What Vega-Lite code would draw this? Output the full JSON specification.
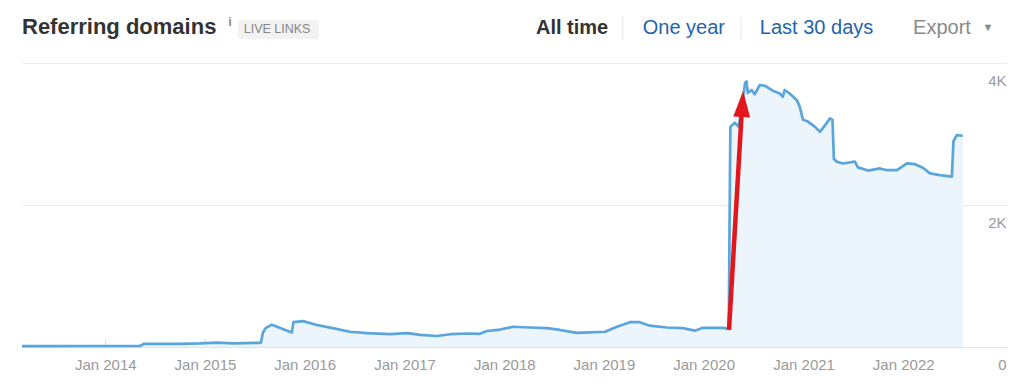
{
  "$schema": "https://vega.github.io/schema/vega-lite/v6.json",
  "width": 985,
  "height": 284,
  "autosize": {"type": "none"},
  "padding": {"left": 22, "top": 63, "right": 17, "bottom": 42},
  "background": "#ffffff",
  "config": {"view": {"stroke": null}, "font": "Liberation Sans", "text": {"font": "Liberation Sans"}},
  "data": {"values": [
    {"date": "2013-03-02", "domains": 12},
    {"date": "2014-05-08", "domains": 15},
    {"date": "2014-05-23", "domains": 45},
    {"date": "2014-10-01", "domains": 45},
    {"date": "2014-12-13", "domains": 50},
    {"date": "2015-02-14", "domains": 62},
    {"date": "2015-04-13", "domains": 52},
    {"date": "2015-07-14", "domains": 58},
    {"date": "2015-07-25", "domains": 60},
    {"date": "2015-08-01", "domains": 200},
    {"date": "2015-08-12", "domains": 270},
    {"date": "2015-09-03", "domains": 315},
    {"date": "2015-11-15", "domains": 205},
    {"date": "2015-11-21", "domains": 350},
    {"date": "2015-12-26", "domains": 365},
    {"date": "2016-02-15", "domains": 310},
    {"date": "2016-04-13", "domains": 265},
    {"date": "2016-06-14", "domains": 215},
    {"date": "2016-08-16", "domains": 195},
    {"date": "2016-11-08", "domains": 180},
    {"date": "2017-01-11", "domains": 195},
    {"date": "2017-02-27", "domains": 170},
    {"date": "2017-04-30", "domains": 155},
    {"date": "2017-06-17", "domains": 180},
    {"date": "2017-08-18", "domains": 190},
    {"date": "2017-10-04", "domains": 185},
    {"date": "2017-10-30", "domains": 225},
    {"date": "2017-12-09", "domains": 240},
    {"date": "2018-02-02", "domains": 285},
    {"date": "2018-04-05", "domains": 275},
    {"date": "2018-06-06", "domains": 265},
    {"date": "2018-07-24", "domains": 240},
    {"date": "2018-09-24", "domains": 200},
    {"date": "2018-11-11", "domains": 205},
    {"date": "2019-01-05", "domains": 215},
    {"date": "2019-02-18", "domains": 285},
    {"date": "2019-04-06", "domains": 350},
    {"date": "2019-05-12", "domains": 350},
    {"date": "2019-06-18", "domains": 300},
    {"date": "2019-08-19", "domains": 275},
    {"date": "2019-10-17", "domains": 265},
    {"date": "2019-11-30", "domains": 230},
    {"date": "2019-12-29", "domains": 270},
    {"date": "2020-03-12", "domains": 270},
    {"date": "2020-04-02", "domains": 255},
    {"date": "2020-04-08", "domains": 3100},
    {"date": "2020-04-24", "domains": 3160},
    {"date": "2020-05-09", "domains": 3100},
    {"date": "2020-05-20", "domains": 3400},
    {"date": "2020-06-01", "domains": 3720},
    {"date": "2020-06-06", "domains": 3740},
    {"date": "2020-06-11", "domains": 3580},
    {"date": "2020-06-25", "domains": 3620},
    {"date": "2020-07-06", "domains": 3560},
    {"date": "2020-07-25", "domains": 3690},
    {"date": "2020-08-12", "domains": 3680},
    {"date": "2020-09-10", "domains": 3610},
    {"date": "2020-10-06", "domains": 3570},
    {"date": "2020-10-17", "domains": 3525},
    {"date": "2020-10-24", "domains": 3620},
    {"date": "2020-11-11", "domains": 3570},
    {"date": "2020-12-07", "domains": 3480},
    {"date": "2020-12-18", "domains": 3385},
    {"date": "2020-12-30", "domains": 3200},
    {"date": "2021-01-17", "domains": 3175},
    {"date": "2021-02-12", "domains": 3100},
    {"date": "2021-03-02", "domains": 3030},
    {"date": "2021-03-21", "domains": 3125},
    {"date": "2021-04-08", "domains": 3220},
    {"date": "2021-04-17", "domains": 3200},
    {"date": "2021-04-22", "domains": 2650},
    {"date": "2021-05-03", "domains": 2610},
    {"date": "2021-05-25", "domains": 2585},
    {"date": "2021-07-08", "domains": 2610},
    {"date": "2021-07-19", "domains": 2530},
    {"date": "2021-08-25", "domains": 2485},
    {"date": "2021-10-08", "domains": 2515},
    {"date": "2021-11-03", "domains": 2490},
    {"date": "2021-12-09", "domains": 2490},
    {"date": "2022-01-15", "domains": 2585},
    {"date": "2022-02-13", "domains": 2575},
    {"date": "2022-03-14", "domains": 2525},
    {"date": "2022-04-09", "domains": 2445},
    {"date": "2022-05-15", "domains": 2420},
    {"date": "2022-06-28", "domains": 2400},
    {"date": "2022-07-04", "domains": 2900},
    {"date": "2022-07-16", "domains": 2985},
    {"date": "2022-08-07", "domains": 2975}
  ]},
  "layer": [
    {
      "mark": {"type": "area", "color": "#edf5fc"},
      "encoding": {
        "x": {
          "field": "date", "type": "temporal",
          "scale": {"domain": [{"year": 2013, "month": 3, "date": 2}, {"year": 2023, "month": 1, "date": 16}]},
          "axis": {
            "title": null,
            "values": [
              {"year": 2014, "month": 1, "date": 1}, {"year": 2015, "month": 1, "date": 1},
              {"year": 2016, "month": 1, "date": 1}, {"year": 2017, "month": 1, "date": 1},
              {"year": 2018, "month": 1, "date": 1}, {"year": 2019, "month": 1, "date": 1},
              {"year": 2020, "month": 1, "date": 1}, {"year": 2021, "month": 1, "date": 1},
              {"year": 2022, "month": 1, "date": 1}
            ],
            "format": "%b %Y",
            "grid": false,
            "labelFlush": false,
            "labelColor": "#9a9a9a",
            "labelFontSize": 15,
            "labelFont": "Liberation Sans",
            "labelBaseline": "top",
            "labelPadding": 19,
            "tickSize": -9,
            "tickColor": "#e3e3e3",
            "domainColor": "#e3e3e3",
            "labelOverlap": false
          }
        },
        "y": {
          "field": "domains", "type": "quantitative",
          "scale": {"domain": [0, 4000], "nice": false},
          "axis": {
            "title": null,
            "orient": "right",
            "values": [0, 2000, 4000],
            "labelExpr": "datum.value == 0 ? '0' : (datum.value / 1000) + 'K'",
            "labelAlign": "right",
            "labelBaseline": "middle",
            "labelPadding": -1,
            "labelOffset": 17,
            "labelColor": "#9a9a9a",
            "labelFontSize": 15,
            "labelFont": "Liberation Sans",
            "domain": false,
            "ticks": false,
            "grid": true,
            "gridColor": "#ececec",
            "labelOverlap": false
          }
        }
      }
    },
    {
      "mark": {"type": "line", "color": "#5aa5dc", "strokeWidth": 2.7, "strokeJoin": "round"},
      "encoding": {
        "x": {"field": "date", "type": "temporal"},
        "y": {"field": "domains", "type": "quantitative"}
      }
    },
    {
      "data": {"values": [{}]},
      "mark": {"type": "rule", "color": "#e3161e", "strokeWidth": 4.5},
      "encoding": {
        "x": {"datum": {"year": 2020, "month": 4, "date": 3}, "type": "temporal"},
        "y": {"datum": 240, "type": "quantitative"},
        "x2": {"datum": {"year": 2020, "month": 5, "date": 20}},
        "y2": {"datum": 3338}
      }
    },
    {
      "data": {"values": [{}]},
      "mark": {"type": "point", "shape": "M0,-1L0.65,1L-0.65,1Z", "filled": true, "color": "#e3161e", "opacity": 1, "size": 676, "angle": 3, "strokeWidth": 0},
      "encoding": {
        "x": {"datum": {"year": 2020, "month": 5, "date": 22}, "type": "temporal"},
        "y": {"datum": 3423, "type": "quantitative"}
      }
    },
    {
      "data": {"values": [{}]},
      "mark": {"type": "text", "text": "Referring domains", "align": "left", "baseline": "middle", "fontSize": 22, "fontWeight": "bold", "color": "#333333"},
      "encoding": {
        "x": {"datum": {"year": 2013, "month": 3, "date": 2}, "type": "temporal"},
        "y": {"datum": 4507, "type": "quantitative"}
      }
    },
    {
      "data": {"values": [{}]},
      "mark": {"type": "text", "text": "i", "align": "center", "baseline": "middle", "fontSize": 13, "fontWeight": "bold", "color": "#8f8f8f"},
      "encoding": {
        "x": {"datum": {"year": 2015, "month": 4, "date": 3}, "type": "temporal"},
        "y": {"datum": 4575, "type": "quantitative"}
      }
    },
    {
      "data": {"values": [{}]},
      "mark": {"type": "rect", "color": "#f2f2f2", "cornerRadius": 2},
      "encoding": {
        "x": {"datum": {"year": 2015, "month": 5, "date": 2}, "type": "temporal"},
        "x2": {"datum": {"year": 2016, "month": 2, "date": 22}},
        "y": {"datum": 4606, "type": "quantitative"},
        "y2": {"datum": 4338}
      }
    },
    {
      "data": {"values": [{}]},
      "mark": {"type": "text", "text": "LIVE LINKS", "align": "left", "baseline": "middle", "fontSize": 12.5, "letterSpacing": 1, "color": "#858585"},
      "encoding": {
        "x": {"datum": {"year": 2015, "month": 5, "date": 23}, "type": "temporal"},
        "y": {"datum": 4472, "type": "quantitative"}
      }
    },
    {
      "data": {"values": [{}]},
      "mark": {"type": "text", "text": "All time", "align": "left", "baseline": "middle", "fontSize": 20, "fontWeight": "bold", "color": "#333333"},
      "encoding": {
        "x": {"datum": {"year": 2018, "month": 4, "date": 27}, "type": "temporal"},
        "y": {"datum": 4493, "type": "quantitative"}
      }
    },
    {
      "data": {"values": [{}]},
      "mark": {"type": "rule", "color": "#e6e6e6", "strokeWidth": 1},
      "encoding": {
        "x": {"datum": {"year": 2019, "month": 3, "date": 11}, "type": "temporal"},
        "y": {"datum": 4648, "type": "quantitative"},
        "y2": {"datum": 4324}
      }
    },
    {
      "data": {"values": [{}]},
      "mark": {"type": "text", "text": "One year", "align": "left", "baseline": "middle", "fontSize": 20, "color": "#1e64ad"},
      "encoding": {
        "x": {"datum": {"year": 2019, "month": 5, "date": 23}, "type": "temporal"},
        "y": {"datum": 4493, "type": "quantitative"}
      }
    },
    {
      "data": {"values": [{}]},
      "mark": {"type": "rule", "color": "#e6e6e6", "strokeWidth": 1},
      "encoding": {
        "x": {"datum": {"year": 2020, "month": 5, "date": 17}, "type": "temporal"},
        "y": {"datum": 4648, "type": "quantitative"},
        "y2": {"datum": 4324}
      }
    },
    {
      "data": {"values": [{}]},
      "mark": {"type": "text", "text": "Last 30 days", "align": "left", "baseline": "middle", "fontSize": 20, "color": "#1e64ad"},
      "encoding": {
        "x": {"datum": {"year": 2020, "month": 7, "date": 25}, "type": "temporal"},
        "y": {"datum": 4493, "type": "quantitative"}
      }
    },
    {
      "data": {"values": [{}]},
      "mark": {"type": "text", "text": "Export", "align": "left", "baseline": "middle", "fontSize": 20, "color": "#8a8a8a"},
      "encoding": {
        "x": {"datum": {"year": 2022, "month": 2, "date": 6}, "type": "temporal"},
        "y": {"datum": 4493, "type": "quantitative"}
      }
    },
    {
      "data": {"values": [{}]},
      "mark": {"type": "text", "text": "▼", "align": "center", "baseline": "middle", "fontSize": 11, "color": "#8a8a8a"},
      "encoding": {
        "x": {"datum": {"year": 2022, "month": 11, "date": 7}, "type": "temporal"},
        "y": {"datum": 4493, "type": "quantitative"}
      }
    }
  ]
}
